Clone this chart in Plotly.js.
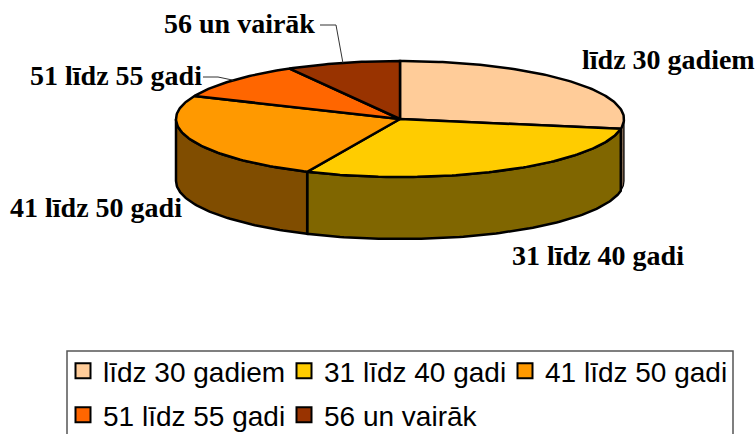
<!DOCTYPE html>
<html><head><meta charset="utf-8">
<script src="https://cdn.plot.ly/plotly-3.0.1.min.js"></script>
<style>html,body{margin:0;padding:0;background:#fff;overflow:hidden}</style>
</head><body><div id="chart" style="width:755px;height:434px"></div>
<script>
const categories = ["līdz 30 gadiem","31 līdz 40 gadi","41 līdz 50 gadi","51 līdz 55 gadi","56 un vairāk"];
const shares = [27.7,29.1,24.7,10.3,8.2];
const topColors = ["#FFCC99","#FFCC00","#FF9900","#FF6600","#993300"];
const sideColors = ["#806650","#806600","#804D00","#803300","#4D1A00"];
const labelX = [582,512,10,30,164];
const labelY = [62,258,210,78,26];
const cx=400, cy=119, rx=224, ry=58, depth=62;

const total = shares.reduce((a,b)=>a+b,0);
let acc=0;
const bounds = shares.map(v=>{const a=acc; acc+=v/total*360; return [a,acc];});
const px=(t)=>cx+rx*Math.sin(t*Math.PI/180);
const py=(t,d)=>cy-ry*Math.cos(t*Math.PI/180)+(d||0);
function arc(a,b,d){const X=[],Y=[];const n=Math.max(2,Math.ceil(Math.abs(b-a)));
  for(let i=0;i<=n;i++){const t=a+(b-a)*i/n;X.push(px(t));Y.push(py(t,d));}return [X,Y];}
const traces=[];
const line={color:"#000",width:2.5};
bounds.forEach(([a,b],i)=>{
  const s=Math.max(a,90), e=Math.min(b,270);
  if(e<=s) return;
  const [x1,y1]=arc(s,e,0), [x2,y2]=arc(e,s,depth);
  traces.push({type:"scatter",mode:"lines",x:[...x1,...x2,x1[0]],y:[...y1,...y2,y1[0]],fill:"toself",fillcolor:sideColors[i],line:(e-s<20)?{color:"#000",width:1.2}:line,showlegend:false,hoverinfo:"skip"});
});
bounds.forEach(([a,b],i)=>{
  const [x1,y1]=arc(a,b,0);
  traces.push({type:"scatter",mode:"lines",x:[cx,...x1,cx],y:[cy,...y1,cy],fill:"toself",fillcolor:topColors[i],line,name:categories[i],showlegend:false,hoverinfo:"name"});
});
[[3,[203,218],77],[4,[320,336],25]].forEach(([i,xs,y])=>{
  const m=(bounds[i][0]+bounds[i][1])/2;
  traces.push({type:"scatter",mode:"lines",x:[xs[0],xs[1],px(m)],y:[y,y,py(m)],line:{color:"#333",width:1},showlegend:false,hoverinfo:"skip"});
});
traces.push({type:"scatter",mode:"text",x:labelX,y:labelY,text:categories,textposition:"middle right",
  textfont:{family:"Liberation Serif",size:28,color:"#000",weight:700},showlegend:false,hoverinfo:"skip",cliponaxis:false});
categories.forEach((c,i)=>{
  traces.push({type:"scatter",mode:"markers",x:[null],y:[null],name:c,legend:i<3?"legend":"legend2",
    marker:{symbol:"square",size:15,color:topColors[i],line:{color:"#000",width:2}},showlegend:true});
});
const legendBase={orientation:"h",xanchor:"left",yanchor:"middle",bgcolor:"rgba(0,0,0,0)",borderwidth:0,
  font:{family:"Liberation Sans",size:28,color:"#000"},entrywidth:176,entrywidthmode:"pixels",itemclick:false,itemdoubleclick:false,traceorder:"normal"};
const layout={width:755,height:434,autosize:false,margin:{l:0,r:0,t:0,b:0,autoexpand:false},paper_bgcolor:"#fff",plot_bgcolor:"#fff",
  xaxis:{range:[0,755],visible:false,fixedrange:true},
  yaxis:{range:[434,0],visible:false,fixedrange:true},
  legend:{...legendBase,x:63/755,y:1-371/434},
  legend2:{...legendBase,x:63/755,y:1-415/434},
  shapes:[{type:"rect",xref:"x",yref:"y",x0:67,x1:733,y0:351,y1:445,line:{color:"#555",width:1.5},fillcolor:"rgba(0,0,0,0)",layer:"below"}],
  showlegend:true};
Plotly.newPlot("chart",traces,layout,{displayModeBar:false});
</script></body></html>
